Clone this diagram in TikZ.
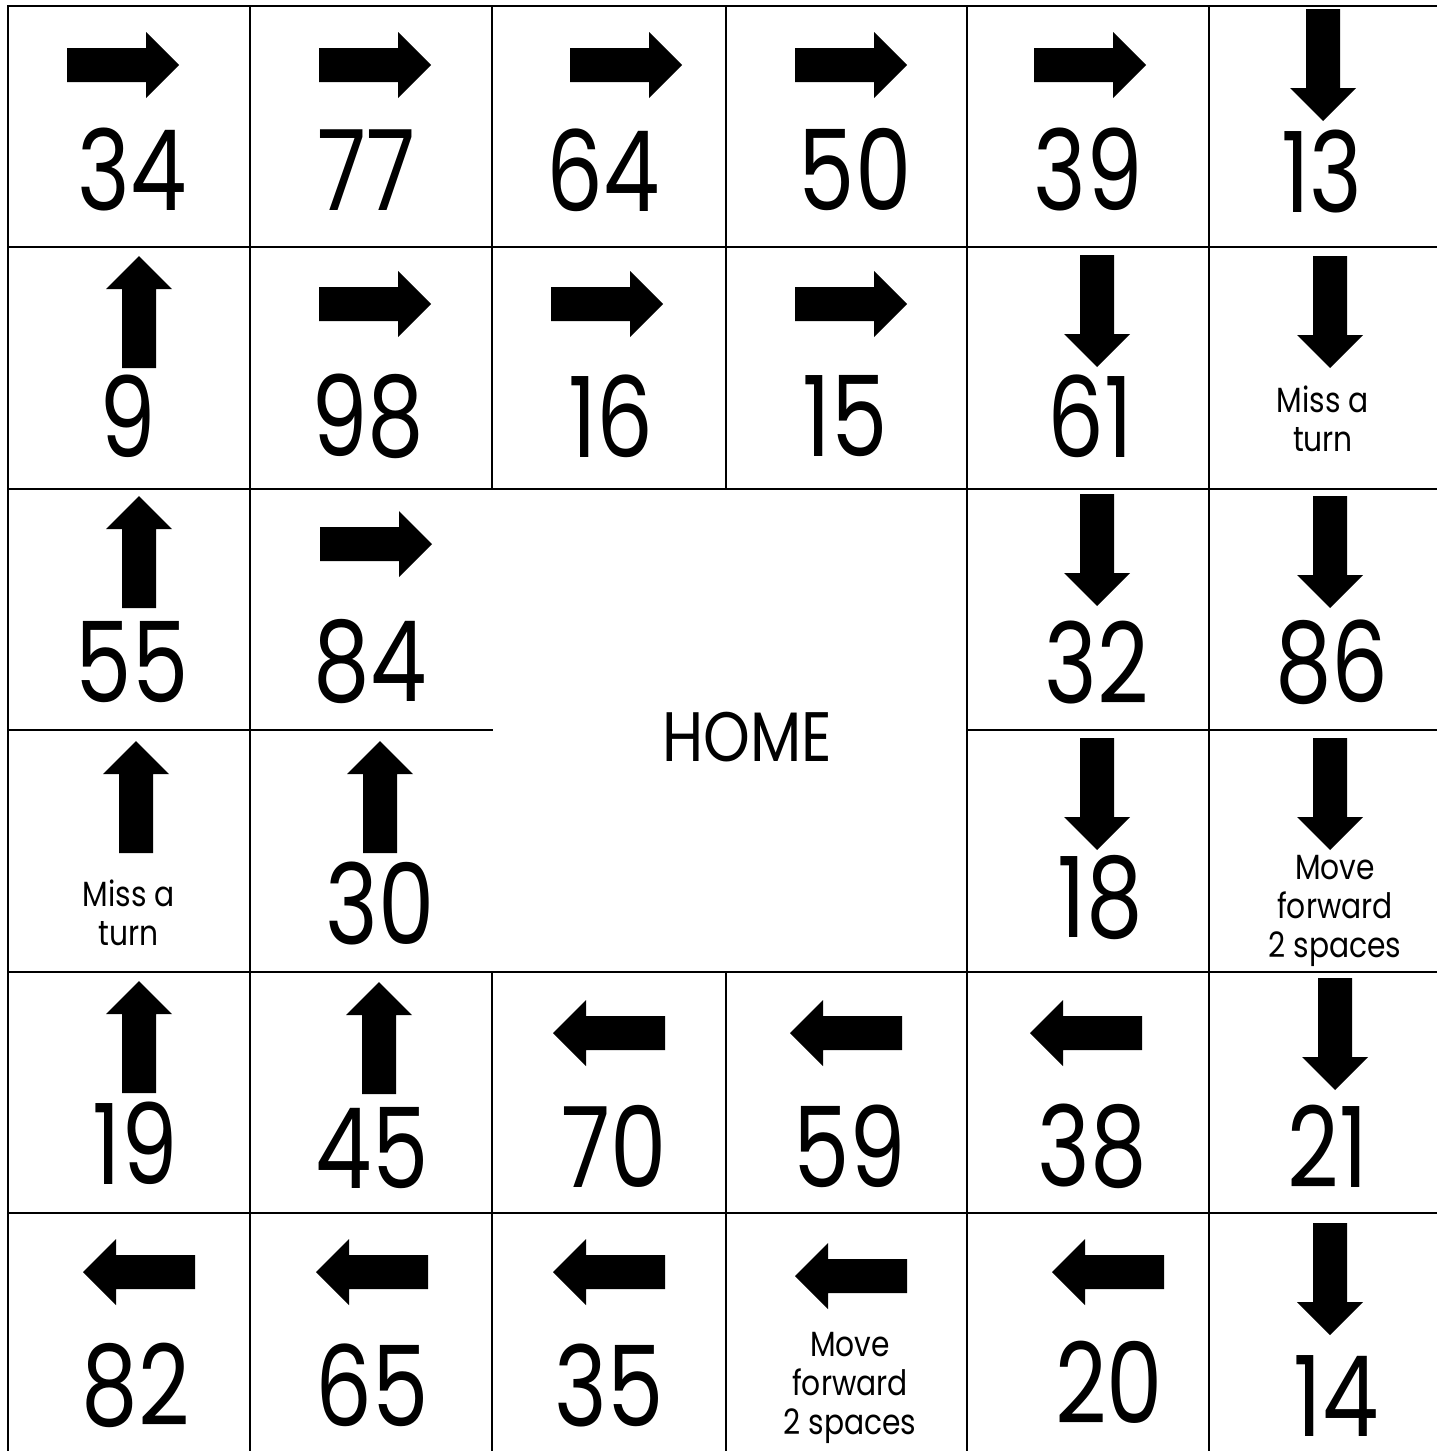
\documentclass[tikz,border=0pt]{standalone}
\usepackage{fontspec}
\setmainfont{Poppins}
\newfontfamily\numfont{Poppins}[FakeStretch=0.8]
\newfontfamily\notefont{Poppins}[FakeStretch=0.85]
\begin{document}
\begin{tikzpicture}[x=1pt,y=-1pt,
  grid/.style={line width=2.6pt,line cap=rect},
  num/.style={font=\numfont\fontsize{112}{112}\selectfont,inner sep=0pt},
  note/.style={font=\notefont\fontsize{35}{39}\selectfont,align=center,inner sep=0pt},
  homefont/.style={font=\notefont\fontsize{70}{70}\selectfont,inner sep=0pt},
  rarr/.pic={\fill (-56,-17) -- (23,-17) -- (23,-33) -- (56,0) -- (23,33) -- (23,17) -- (-56,17) -- cycle;},
  larr/.pic={\fill (56,-17) -- (-23,-17) -- (-23,-33) -- (-56,0) -- (-23,33) -- (-23,17) -- (56,17) -- cycle;},
  darr/.pic={\fill (-17,-56) -- (-17,23) -- (-33,23) -- (0,56) -- (33,23) -- (17,23) -- (17,-56) -- cycle;},
  uarr/.pic={\fill (-17,56) -- (-17,-23) -- (-33,-23) -- (0,-56) -- (33,-23) -- (17,-23) -- (17,56) -- cycle;}
]
\useasboundingbox (0,0) rectangle (1437,1451);
\fill[white] (0,0) rectangle (1437,1451);
% grid lines
\draw[grid] (8,6) -- (8,1460) (250,6) -- (250,1460) (967,6) -- (967,1460) (1209,6) -- (1209,1460)
  (492,6) -- (492,489) (726,6) -- (726,489) (492,972) -- (492,1460) (726,972) -- (726,1460)
  (8,6) -- (1445,6) (8,247) -- (1445,247) (8,489) -- (1445,489)
  (8,730) -- (492,730) (967,730) -- (1445,730)
  (8,972) -- (1445,972) (8,1213) -- (1445,1213);
% row 1
\pic at (123,65) {rarr};  \node[num] (n34) at (132,170) {34};
\pic at (375,65) {rarr};  \node[num] (n77) at (366,170) {77};
\pic at (626,65) {rarr};  \node[num] (n64) at (603,170) {64};
\pic at (851,65) {rarr};  \node[num] (n50) at (855,170) {50};
\pic at (1090,65) {rarr}; \node[num] (n39) at (1088,170) {39};
\pic at (1323,65) {darr}; \node[num] (n13) at (1322,172) {13};
% row 2
\pic at (139,312) {uarr}; \node[num] (n9) at (128,416) {9};
\pic at (375,304) {rarr}; \node[num] (n98) at (368,416) {98};
\pic at (607,304) {rarr}; \node[num] (n16) at (611,416) {16};
\pic at (851,304) {rarr}; \node[num] (n15) at (845,416) {15};
\pic at (1097,311) {darr}; \node[num] (n61) at (1090,416) {61};
\pic at (1330,312) {darr}; \node[note] (miss1) at (1323,419) {Miss a\\turn};
% row 3
\pic at (139,552) {uarr}; \node[num] (n55) at (132,662) {55};
\pic at (376,544) {rarr}; \node[num] (n84) at (370,662) {84};
\node[homefont] (home) at (747,737) {HOME};
\pic at (1097,550) {darr}; \node[num] (n32) at (1097,662) {32};
\pic at (1330,552) {darr}; \node[num] (n86) at (1332,662) {86};
% row 4
\pic at (136,797) {uarr}; \node[note] (miss2) at (129,913) {Miss a\\turn};
\pic at (380,797) {uarr}; \node[num] (n30) at (380,903) {30};
\pic at (1097,794) {darr}; \node[num] (n18) at (1100,898) {18};
\pic at (1330,794) {darr}; \node[note] (move1) at (1335,911) {Move\\forward\\2 spaces};
% row 5
\pic at (139,1037) {uarr}; \node[num] (n19) at (135,1143) {19};
\pic at (379,1038) {uarr}; \node[num] (n45) at (372,1148) {45};
\pic at (609,1033) {larr}; \node[num] (n70) at (614,1146) {70};
\pic at (846,1033) {larr}; \node[num] (n59) at (850,1146) {59};
\pic at (1086,1033) {larr}; \node[num] (n38) at (1092,1146) {38};
\pic at (1335,1034) {darr}; \node[num] (n21) at (1328,1146) {21};
% row 6
\pic at (139,1272) {larr}; \node[num] (n82) at (136,1385) {82};
\pic at (372,1272) {larr}; \node[num] (n65) at (372,1385) {65};
\pic at (609,1272) {larr}; \node[num] (n35) at (609,1385) {35};
\pic at (851,1276) {larr}; \node[note] (move2) at (850,1388) {Move\\forward\\2 spaces};
\pic at (1108,1272) {larr}; \node[num] (n20) at (1109,1382) {20};
\pic at (1330,1279) {darr}; \node[num] (n14) at (1336,1396) {14};
\end{tikzpicture}
\end{document}
